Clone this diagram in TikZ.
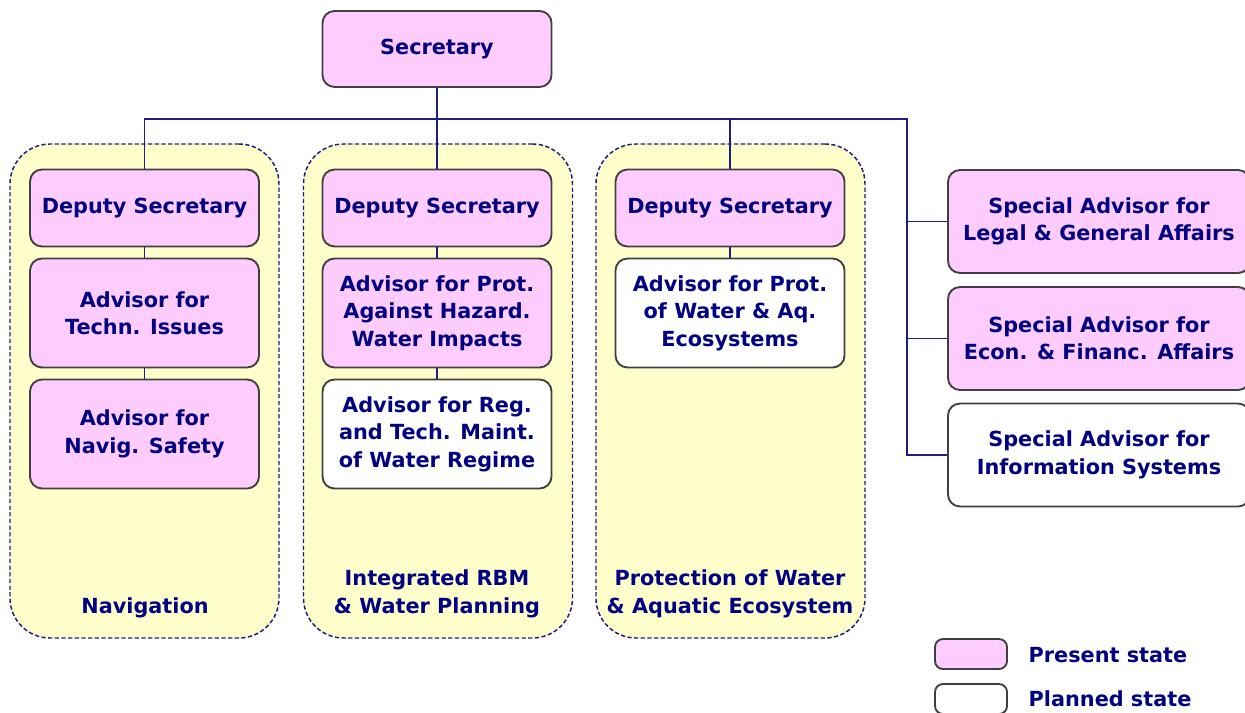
\documentclass[tikz,border=0pt]{standalone}
\usepackage{fontspec}
\setmainfont{DejaVu Sans}
\definecolor{presentpink}{HTML}{FFCCFF}
\definecolor{areayellow}{HTML}{FFFFCC}
\definecolor{navytext}{HTML}{000080}
\definecolor{navyline}{HTML}{1E1E82}
\definecolor{boxgray}{HTML}{404040}
\begin{document}
\begin{tikzpicture}[x=0.75pt,y=-0.75pt,
    present/.style ={draw=boxgray, fill=presentpink, line width=1.4pt, rounded corners=9pt,
        minimum width=171.75pt, align=center, text=navytext, inner sep=0pt,
        font=\bfseries\fontsize{15.6}{20.6}\selectfont},
    planned/.style ={present, fill=white},
    area/.style ={draw=navyline, fill=areayellow, line width=1.1pt, rounded corners=30pt,
        dash pattern=on 3.2pt off 1.8pt, minimum width=201.75pt, minimum height=370.5pt},
    arealabel/.style ={align=center, text=navytext, font=\bfseries\fontsize{15.6}{20.6}\selectfont},
    conn/.style ={draw=navyline, line width=1.1pt}]
   \useasboundingbox (0,0) rectangle (1245,713);

   % areas
   \node[area] (nav) at (144.5,391) {};
   \node[area] (rbm) at (438,391) {};
   \node[area] (eco) at (730.5,391) {};
   \node[arealabel] (navlabel) at (145,608) {Navigation};
   \node[arealabel] (rbmlabel) at (437,594) {Integrated RBM\\\& Water Planning};
   \node[arealabel] (ecolabel) at (730,594) {Protection of Water\\\& Aquatic Ecosystem};

   % boxes
   \node[present, minimum height=57pt] (sec) at (437,49) {Secretary};
   \node[present, minimum height=57.75pt] (dep1) at (144.5,208) {Deputy Secretary};
   \node[present, minimum height=57.75pt] (dep2) at (437,208) {Deputy Secretary};
   \node[present, minimum height=57.75pt] (dep3) at (730,208) {Deputy Secretary};
   \node[present, minimum height=81.75pt] (techn) at (144.5,313) {Advisor for\\Techn. Issues};
   \node[present, minimum height=81.75pt] (navig) at (144.5,434) {Advisor for\\Navig. Safety};
   \node[present, minimum height=81.75pt] (hazard) at (437,313) {Advisor for Prot.\\Against Hazard.\\Water Impacts};
   \node[planned, minimum height=81.75pt] (regime) at (437,434) {Advisor for Reg.\\and Tech. Maint.\\of Water Regime};
   \node[planned, minimum height=81.75pt] (aqua) at (730,313) {Advisor for Prot.\\of Water \& Aq.\\Ecosystems};
   \node[present, minimum width=226.5pt, minimum height=77.25pt] (legal) at (1099,221.5) {Special Advisor for\\Legal \& General Affairs};
   \node[present, minimum width=226.5pt, minimum height=77.25pt] (econ) at (1099,338.5) {Special Advisor for\\Econ. \& Financ. Affairs};
   \node[planned, minimum width=226.5pt, minimum height=77.25pt] (info) at (1099,455) {Special Advisor for\\Information Systems};

   % connectors
   \coordinate (busL) at (144.5,119);
   \coordinate (busR) at (907,119);
   \draw[conn] (dep1.north) -- (busL) -- (busR) |- (info.west);
   \draw[conn] (sec.south) -- (dep2.north);
   \draw[conn] (dep3.north) -- (dep3.north |- busL);
   \draw[conn] (legal.west) -- (legal.west -| busR);
   \draw[conn] (econ.west) -- (econ.west -| busR);
   \draw[conn] (dep1) -- (techn);
   \draw[conn] (techn) -- (navig);
   \draw[conn] (dep2) -- (hazard);
   \draw[conn] (hazard) -- (regime);
   \draw[conn] (dep3) -- (aqua);

   % legend
   \node[present, minimum width=54pt, minimum height=22.5pt, rounded corners=6pt] (keypresent) at (971,654) {};
   \node[planned, minimum width=54pt, minimum height=22.5pt, rounded corners=6pt] (keyplanned) at (971,699) {};
   \node[arealabel, anchor=west] (keypresenttext) at (1024,655) {Present state};
   \node[arealabel, anchor=west] (keyplannedtext) at (1024,699) {Planned state};
\end{tikzpicture}
\end{document}
